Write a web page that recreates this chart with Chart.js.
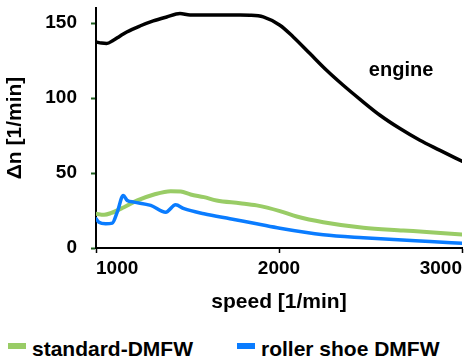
<!DOCTYPE html>
<html lang="en">
<head>
  <meta charset="UTF-8">
  <title>Speed fluctuation: engine vs DMFW</title>
  <script src="https://cdn.jsdelivr.net/npm/chart.js"></script>
  <style>
    body {
      margin: 0;
      background: #fff;
      font-family: "Liberation Sans", Arial, sans-serif;
    }
    #wrap {
      position: relative;
      width: 466px;
      height: 362px;
    }
    #chartBox {
      position: absolute;
      left: 0;
      top: 0;
      width: 466px;
      height: 324px;
    }
    .legend-item {
      position: absolute;
      top: 337px;
      height: 24px;
      display: flex;
      align-items: center;
      font: bold 21px "Liberation Sans", Arial, sans-serif;
      line-height: 24px;
      color: #000;
      white-space: nowrap;
    }
    .legend-box {
      width: 18px;
      height: 6px;
      margin-right: 6px;
      position: relative;
      top: -3px;
    }
  </style>
</head>
<body>
  <div id="wrap">
    <div id="chartBox"><canvas id="dnChart"></canvas></div>
    <div id="legend"></div>
  </div>

  <script>
    // speed [1/min] and speed fluctuation [1/min]
    const engineSpeed = [1000, 1030, 1058, 1095, 1130, 1168, 1240, 1313, 1386, 1459, 1514, 1600, 1700, 1787, 1841, 1914, 2005, 2078, 2169, 2260, 2351, 2443, 2552, 2661, 2770, 2880, 3000];
    const engineDn    = [137.4, 136.6, 136.3, 138.5, 141.2, 144, 148, 151.4, 154, 156.3, 155.3, 155.3, 155.3, 155.3, 155.2, 154.1, 148.5, 140.7, 129.6, 118.5, 108.5, 99.1, 88.5, 79.6, 71.8, 65.1, 57.8];

    const standardSpeed = [1000, 1044, 1080, 1153, 1226, 1317, 1408, 1463, 1517, 1590, 1659, 1787, 1878, 2005, 2097, 2242, 2461, 2679, 2825, 3000];
    const standardDn    = [22.8, 22.2, 23.2, 27.2, 31.7, 35.7, 37.9, 37.7, 35.7, 33.9, 31.7, 29.9, 28.4, 24.6, 21, 17.2, 13.5, 11.7, 10.5, 9];

    const rollerSpeed = [1000, 1016, 1053, 1089, 1116, 1149, 1171, 1208, 1299, 1381, 1435, 1481, 1590, 1732, 1878, 2005, 2242, 2461, 2825, 3000];
    const rollerDn    = [19.5, 17.2, 16.2, 16.6, 23.9, 35, 31.7, 30.6, 28.4, 23.9, 28.8, 26.2, 22.8, 19.5, 16.2, 13.2, 8.8, 6.8, 4.3, 3.2];

    const xTicks = [1000, 2000, 3000];
    const yTicks = [0, 50, 100, 150];

    // label written next to the engine curve, in data units
    const engineText = 'engine';
    const engineTextAt = [2667, 115];

    const FONT = '"Liberation Sans", Arial, sans-serif';
    Chart.defaults.font.family = FONT;
    Chart.defaults.color = '#000';

    function toPoints(xs, ys) {
      return xs.map((x, i) => ({ x: x, y: ys[i] }));
    }

    // Draws the "engine" label inside the plot
    const engineLabel = {
      id: 'engineLabel',
      afterDatasetsDraw(chart) {
        const { ctx, scales: { x, y } } = chart;
        ctx.save();
        ctx.font = 'bold 20px ' + FONT;
        ctx.fillStyle = '#000';
        ctx.textAlign = 'center';
        ctx.textBaseline = 'alphabetic';
        ctx.fillText(engineText, x.getPixelForValue(engineTextAt[0]), y.getPixelForValue(engineTextAt[1]));
        ctx.restore();
      }
    };

    // keep the plot box fixed: no extra room for overhanging tick labels
    function noPadding(scale) {
      scale.paddingTop = 0;
      scale.paddingBottom = 0;
      scale.paddingLeft = 0;
      scale.paddingRight = 0;
    }

    const ctx = document.getElementById('dnChart').getContext('2d');
    const dnChart = new Chart(ctx, {
      type: 'line',
      data: {
        datasets: [
          {
            label: 'engine',
            data: toPoints(engineSpeed, engineDn),
            borderColor: '#000000',
            borderWidth: 3.5,
            inLegend: false,
            order: 0
          },
          {
            label: 'standard-DMFW',
            data: toPoints(standardSpeed, standardDn),
            borderColor: '#99cc66',
            borderWidth: 4,
            inLegend: true,
            order: 2
          },
          {
            label: 'roller shoe DMFW',
            data: toPoints(rollerSpeed, rollerDn),
            borderColor: '#0a7cff',
            borderWidth: 3.5,
            inLegend: true,
            order: 1
          }
        ]
      },
      options: {
        responsive: true,
        maintainAspectRatio: false,
        animation: false,
        layout: { padding: { top: 8, right: 4, left: 0, bottom: 0 } },
        elements: {
          point: { radius: 0 },
          line: { cubicInterpolationMode: 'monotone', fill: false, borderCapStyle: 'round', borderJoinStyle: 'round' }
        },
        plugins: {
          legend: { display: false },
          tooltip: { enabled: false }
        },
        scales: {
          x: {
            type: 'linear',
            min: 1000,
            max: 3000,
            afterBuildTicks(scale) {
              scale.ticks = xTicks.map(v => ({ value: v }));
            },
            afterFit(scale) {
              scale.height = 76;
              noPadding(scale);
            },
            ticks: {
              align: 'inner',
              padding: 4,
              font: { size: 19, weight: 'bold' },
              color: '#000',
              callback: v => String(v)
            },
            grid: {
              drawOnChartArea: false,
              drawTicks: true,
              tickLength: 5,
              tickColor: '#000',
              tickWidth: 1.5
            },
            border: { color: '#000', width: 2 },
            title: {
              display: true,
              text: 'speed [1/min]',
              font: { size: 21, weight: 'bold' },
              color: '#000',
              padding: { top: 0, bottom: 9 }
            }
          },
          y: {
            type: 'linear',
            min: 0,
            max: 160,
            afterBuildTicks(scale) {
              scale.ticks = yTicks.map(v => ({ value: v }));
            },
            afterFit(scale) {
              scale.width = 96;
              noPadding(scale);
            },
            ticks: {
              padding: 14,
              font: { size: 19, weight: 'bold' },
              color: '#000',
              callback: v => String(v)
            },
            grid: {
              drawOnChartArea: false,
              drawTicks: true,
              tickLength: 5,
              tickColor: '#1f5f1f',
              tickWidth: 2
            },
            border: { color: '#000', width: 2 },
            title: {
              display: true,
              text: 'Δn [1/min]',
              font: { size: 21, weight: 'bold' },
              color: '#000',
              padding: { top: 3, bottom: 0 }
            }
          }
        }
      },
      plugins: [engineLabel]
    });

    // legend below the chart, built from the datasets
    const legendLefts = [8, 237];
    const legendEl = document.getElementById('legend');
    dnChart.data.datasets.filter(ds => ds.inLegend).forEach((ds, i) => {
      const item = document.createElement('div');
      item.className = 'legend-item';
      item.style.left = legendLefts[i] + 'px';
      const box = document.createElement('span');
      box.className = 'legend-box';
      box.style.background = ds.borderColor;
      const txt = document.createElement('span');
      txt.textContent = ds.label;
      item.appendChild(box);
      item.appendChild(txt);
      legendEl.appendChild(item);
    });
  </script>
</body>
</html>
